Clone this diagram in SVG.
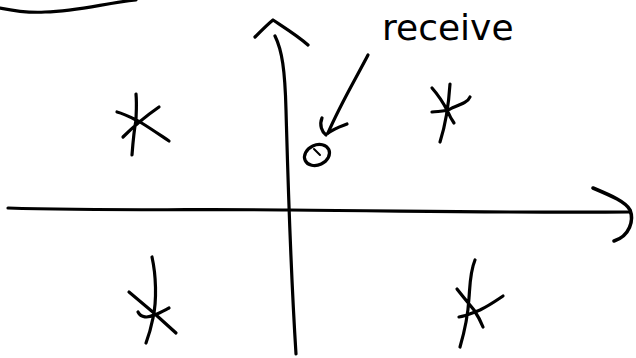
<svg xmlns="http://www.w3.org/2000/svg" width="636" height="358" viewBox="0 0 636 358">
<style>
.s{fill:none;stroke:#000;stroke-width:3.2;stroke-linecap:round;stroke-linejoin:round}
.t{font-family:"DejaVu Sans","Liberation Sans",sans-serif;font-size:36px;fill:#000}
</style>
<rect width="636" height="358" fill="#fff"/>
<g id="top-curve"><path class="s" d="M0,8 C15,11 30,13 45,12 C80,11 105,3 136,0"/></g>
<g id="connectors">
<path id="x-axis" class="s" d="M8,208 C100,211 200,209 290,210 C420,211 520,213 630,212"/>
<path id="x-head" class="s" d="M593,188 C612,196 626,202 630,210 C634,220 630,236 614,241" style="stroke-width:3.6"/>
<path id="y-axis" class="s" d="M275,36 C282,50 285,70 286,110 C288,180 290,260 296,354"/>
<path id="y-head" class="s" d="M255,37 C262,30 268,24 273,20 C285,28 298,36 308,45"/>
<path id="recv-arrow" class="s" d="M368,55 C355,80 340,105 328,133"/>
<path id="recv-head" class="s" d="M328,133 C335,128 342,126 347,124 M322,118 C319,125 322,132 326,135"/>
</g>
<g id="label-receive"><text class="t" x="382" y="40">receive</text></g>
<g id="received-point">
<ellipse class="s" cx="317" cy="155" rx="13" ry="10" transform="rotate(-25 317 155)"/>
<path class="s" d="M314,149 L320,155" style="stroke-width:2"/>
</g>
<g id="sym-top-left"><path class="s" d="M136,94 C137,105 136,115 136,120 C134,130 133,142 132,155 M117,112 C125,114 132,118 140,122 C150,128 160,135 169,141 M123,137 C133,127 146,116 159,107"/></g>
<g id="sym-top-right"><path class="s" d="M450,84 C449,100 447,120 440,142 M432,88 C440,97 446,108 448,112 C450,117 452,120 454,123 M432,112 C440,111 446,112 452,108 C462,104 468,102 470,97"/></g>
<g id="sym-bottom-left"><path class="s" d="M152,257 C156,275 157,300 153,318 C151,328 149,335 146,343 M129,292 C145,305 160,318 176,333 M138,312 C141,318 148,318 154,315 C160,313 165,310 169,308"/></g>
<g id="sym-bottom-right"><path class="s" d="M475,260 C470,272 470,285 469,298 C468,315 465,330 460,347 M457,289 C464,298 470,305 474,310 C478,316 481,322 483,327 M459,317 C466,316 472,313 480,310 C490,305 497,300 503,296"/></g>
</svg>
